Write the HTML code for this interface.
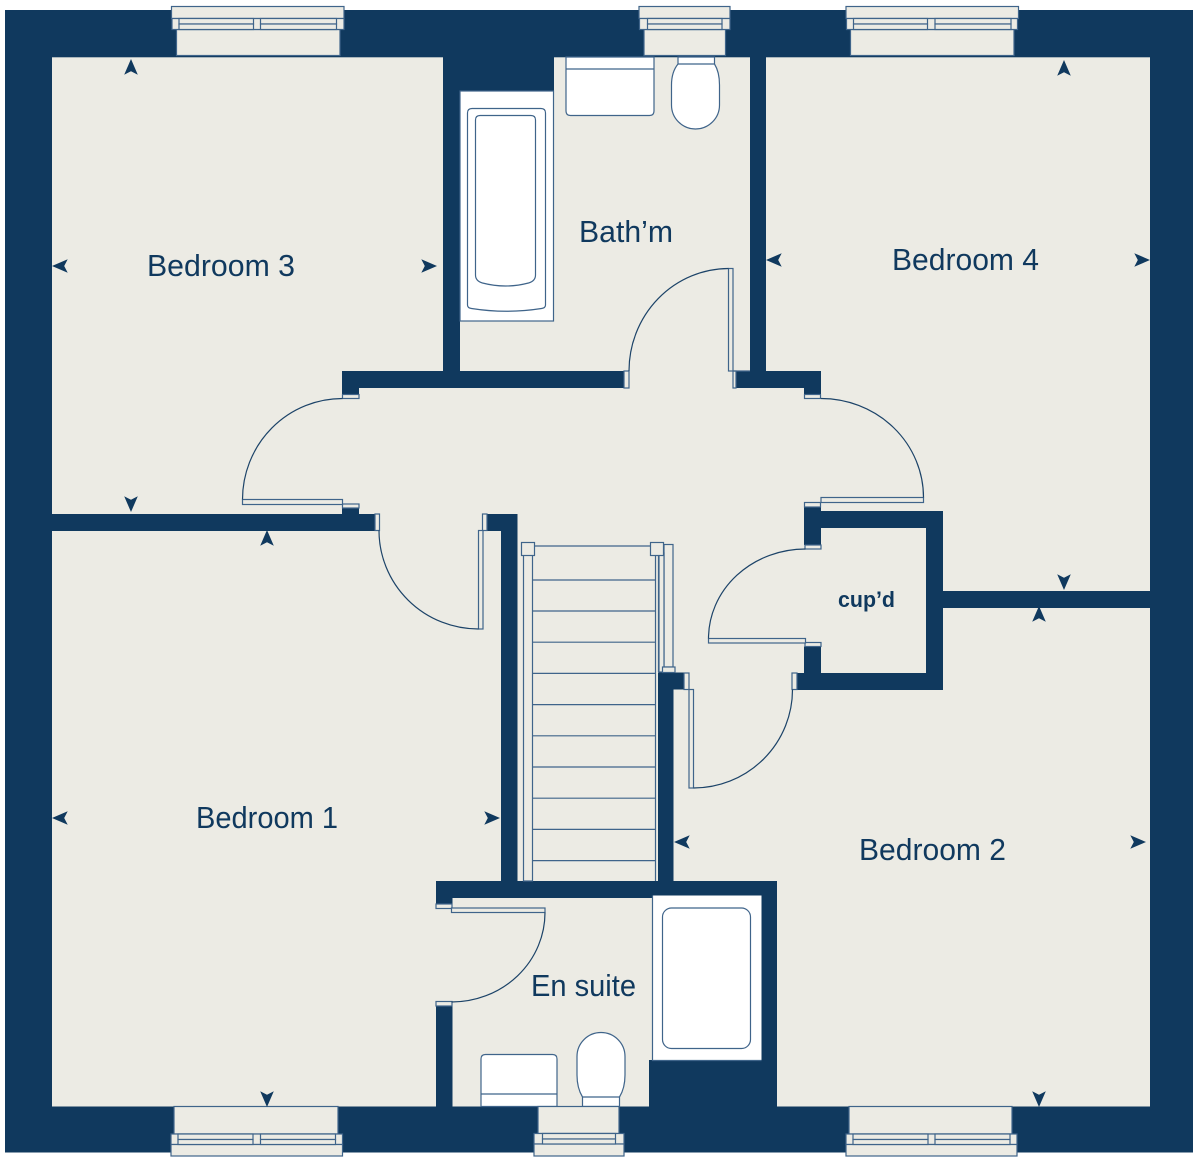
<!DOCTYPE html>
<html><head><meta charset="utf-8"><title>First floor plan</title>
<style>
html,body{margin:0;padding:0;background:#fff}
svg{display:block}
.w{fill:#10395e}
.f{fill:#ecebe4;stroke:#3f648a;stroke-width:1.2}
.p{fill:#fff;stroke:#3f648a;stroke-width:1.2}
.l{fill:none;stroke:#3f648a;stroke-width:1.2}
.a{fill:none;stroke:#1c4368;stroke-width:1.2}
text{font-family:"Liberation Sans",sans-serif;fill:#10395e}
</style></head><body>
<svg xmlns="http://www.w3.org/2000/svg" width="1200" height="1164" viewBox="0 0 1200 1164">
<defs><polygon id="ar" points="0,0 6.8,15.7 0,12.2 -6.8,15.7" fill="#10395e"/></defs>
<rect width="1200" height="1164" fill="#fff"/>
<rect class="w" x="5" y="10" width="1188" height="1142.500"/>
<rect x="52" y="57.300" width="1098" height="1049.200" fill="#ecebe4"/>

<!-- walls -->
<rect class="w" x="443" y="57" width="111" height="34"/>
<rect class="w" x="443" y="57" width="17" height="315"/>
<rect class="w" x="342" y="371" width="282" height="17"/>
<rect class="w" x="342" y="371" width="17" height="24"/>
<rect class="w" x="750" y="57" width="16" height="315"/>
<rect class="w" x="735" y="371" width="86" height="17"/>
<rect class="w" x="804" y="371" width="17" height="24"/>
<rect class="w" x="52" y="514" width="323" height="17"/>
<rect class="w" x="342" y="508" width="17" height="7"/>
<rect class="w" x="487" y="514" width="30" height="17"/>
<rect class="w" x="501" y="514" width="16.500" height="368"/>
<rect class="w" x="658" y="672.500" width="15.500" height="210"/>
<rect class="w" x="658" y="672.500" width="26" height="17"/>
<rect class="w" x="797" y="673" width="146" height="17"/>
<rect class="w" x="804" y="646.500" width="17" height="30"/>
<rect class="w" x="804" y="507" width="17" height="38"/>
<rect class="w" x="820" y="511" width="123" height="17"/>
<rect class="w" x="926" y="511" width="17" height="179"/>
<rect class="w" x="942" y="591" width="208" height="17"/>
<rect class="w" x="436" y="881" width="341" height="17"/>
<rect class="w" x="436" y="881" width="16.500" height="23"/>
<rect class="w" x="436" y="1006" width="16.500" height="101"/>
<rect class="w" x="761" y="881" width="16" height="226"/>
<rect class="w" x="649" y="1060" width="128" height="47"/>

<!-- jambs -->
<rect class="f" x="342.500" y="394.500" width="16.500" height="4"/>
<rect class="f" x="342.500" y="504" width="16.500" height="4"/>
<rect class="f" x="375" y="514" width="4.500" height="16.500"/>
<rect class="f" x="482.500" y="514" width="4.500" height="16.500"/>
<rect class="f" x="624" y="371" width="5" height="17"/>
<rect class="f" x="733" y="371" width="3" height="17"/>
<rect class="f" x="804.500" y="394.500" width="16" height="4"/>
<rect class="f" x="804.500" y="502.500" width="16" height="4.500"/>
<rect class="f" x="805" y="545" width="16" height="4"/>
<rect class="f" x="805" y="642.500" width="16" height="4"/>
<rect class="f" x="684" y="673" width="5" height="16.500"/>
<rect class="f" x="792" y="673" width="5" height="16.500"/>
<rect class="f" x="436" y="904" width="16" height="4.500"/>
<rect class="f" x="436" y="1001.500" width="16" height="4.500"/>

<!-- door leaves and swings -->
<rect class="f" x="242.500" y="499.500" width="100" height="5"/>
<path class="a" d="M242.500 499.500A100 101 0 0 1 342.500 398.500"/>
<rect class="f" x="478.500" y="530.500" width="4.500" height="98.500"/>
<path class="a" d="M379 530.500A99.500 98.500 0 0 0 478.500 629"/>
<rect class="f" x="728.500" y="268.500" width="4.500" height="102.500"/>
<line class="l" x1="733" y1="371" x2="750" y2="371"/>
<path class="a" d="M629 371A100 102.500 0 0 1 728.500 268.500"/>
<rect class="f" x="821" y="497.500" width="102.500" height="5"/>
<path class="a" d="M923.500 497.500A102.500 99 0 0 0 821 398.500"/>
<rect class="f" x="708.500" y="638.500" width="97" height="4.500"/>
<path class="a" d="M708.500 638.500A97 89.500 0 0 1 805.500 549"/>
<rect class="f" x="689" y="689.500" width="4.500" height="98.500"/>
<path class="a" d="M693.500 788A99 98.500 0 0 0 792.500 689.500"/>
<rect class="f" x="451.500" y="908" width="93.500" height="4.500"/>
<path class="a" d="M545 912.500A93.500 89.500 0 0 1 451.500 1002"/>

<!-- stairs -->
<rect class="f" x="523.500" y="555" width="9" height="326"/>
<line class="l" x1="534" y1="546" x2="650" y2="546"/>
<path class="l" d="M532.500 580H655.500M532.500 611H655.500M532.500 642.200H655.500M532.500 673.400H655.500M532.500 704.600H655.500M532.500 735.800H655.500M532.500 767H655.500M532.500 798.200H655.500M532.500 829.400H655.500M532.500 860.600H655.500"/>
<path class="l" d="M655.500 555V881M658.500 555V672"/>
<rect class="f" x="664" y="544.500" width="9" height="122.500"/>
<rect class="f" x="659" y="553" width="5" height="119"/>
<rect class="f" x="521.500" y="542.500" width="13" height="13"/>
<rect class="f" x="650.500" y="542.500" width="13" height="13"/>
<rect class="f" x="662.500" y="667" width="12.500" height="5.500"/>

<!-- bathroom fittings -->
<rect class="p" x="460" y="91" width="93.500" height="230"/>
<path class="l" d="M467.500 113q0-4.500 4.500-4.500H541q4.500 0 4.500 4.500V305q0 3-4 3.500q-35 5.500-70 0q-4-.5-4-3.500Z"/>
<path class="l" d="M475.500 120q0-4.500 4.500-4.500H531q4.500 0 4.500 4.500V275q0 6-7 8q-23 6-46 0q-7-2-7-8Z"/>
<path class="p" d="M566 57V111q0 4.500 4.500 4.500H649.500q4.500 0 4.500-4.500V57Z"/>
<line class="l" x1="566" y1="69" x2="654" y2="69"/>
<path class="p" d="M678 57V64Q671.500 72 671.500 85V105A24 24 0 0 0 719.500 105V85Q719.500 72 714.500 64V57Z"/>
<line class="l" x1="678" y1="64" x2="714.500" y2="64"/>

<!-- en suite fittings -->
<rect x="652.500" y="895.500" width="109" height="165" fill="#fff"/>
<path class="l" d="M652.500 895.500V1060.500H761.500"/>
<rect class="p" x="662.500" y="908" width="88" height="140.500" rx="9"/>
<path class="p" d="M481 1106.500V1059q0-4.500 4.500-4.500H552.500q4.500 0 4.500 4.500V1106.500Z"/>
<line class="l" x1="481" y1="1094" x2="557" y2="1094"/>
<path class="p" d="M582.500 1106.500V1097Q577 1088 577 1075V1056.500A24 24 0 0 1 625 1056.500V1075Q625 1088 619.500 1097V1106.500Z"/>
<line class="l" x1="582.500" y1="1097" x2="619.500" y2="1097"/>

<!-- top windows -->
<rect class="f" x="176.500" y="29.500" width="163.500" height="26"/>
<rect class="f" x="171.500" y="6.500" width="172.500" height="12"/>
<rect class="f" x="172" y="18.500" width="172" height="11"/>
<rect class="f" x="179" y="18.500" width="74.500" height="5.500"/><rect class="f" x="179" y="24" width="74.500" height="5.500"/>
<rect class="f" x="260.500" y="18.500" width="76" height="5.500"/><rect class="f" x="260.500" y="24" width="76" height="5.500"/>

<rect class="f" x="644" y="29.500" width="81.500" height="26"/>
<rect class="f" x="639" y="6.500" width="91" height="12"/>
<rect class="f" x="639.500" y="18.500" width="90.500" height="11"/>
<rect class="f" x="647.500" y="18.500" width="74.500" height="5.500"/><rect class="f" x="647.500" y="24" width="74.500" height="5.500"/>

<rect class="f" x="850.500" y="29.500" width="163.500" height="26"/>
<rect class="f" x="846" y="6.500" width="172.500" height="12"/>
<rect class="f" x="846.500" y="18.500" width="171" height="11"/>
<rect class="f" x="853.500" y="18.500" width="74" height="5.500"/><rect class="f" x="853.500" y="24" width="74" height="5.500"/>
<rect class="f" x="935" y="18.500" width="76" height="5.500"/><rect class="f" x="935" y="24" width="76" height="5.500"/>

<!-- bottom windows -->
<rect class="f" x="174" y="1106.500" width="164" height="27.500"/>
<rect class="f" x="171" y="1134" width="171.500" height="10.500"/>
<rect class="f" x="171" y="1144.500" width="171.500" height="11.500"/>
<rect class="f" x="178" y="1134" width="75" height="5.500"/><rect class="f" x="178" y="1139.500" width="75" height="5"/>
<rect class="f" x="260.500" y="1134" width="75" height="5.500"/><rect class="f" x="260.500" y="1139.500" width="75" height="5"/>

<rect class="f" x="538" y="1106.500" width="81" height="27"/>
<rect class="f" x="534" y="1133.500" width="90" height="10.500"/>
<rect class="f" x="534" y="1144" width="90" height="12"/>
<rect class="f" x="542.500" y="1133.500" width="73" height="5.500"/><rect class="f" x="542.500" y="1139" width="73" height="5"/>

<rect class="f" x="849" y="1106.500" width="163" height="27.500"/>
<rect class="f" x="846" y="1134" width="171" height="10.500"/>
<rect class="f" x="846" y="1144.500" width="171" height="11.500"/>
<rect class="f" x="853" y="1134" width="75" height="5.500"/><rect class="f" x="853" y="1139.500" width="75" height="5"/>
<rect class="f" x="935" y="1134" width="75" height="5.500"/><rect class="f" x="935" y="1139.500" width="75" height="5"/>

<!-- dimension arrowheads -->
<use href="#ar" transform="translate(131 59)"/>
<use href="#ar" transform="translate(131 512) rotate(180)"/>
<use href="#ar" transform="translate(52 266) rotate(-90)"/>
<use href="#ar" transform="translate(437 266) rotate(90)"/>
<use href="#ar" transform="translate(267 530)"/>
<use href="#ar" transform="translate(267 1107) rotate(180)"/>
<use href="#ar" transform="translate(52 818) rotate(-90)"/>
<use href="#ar" transform="translate(500 818) rotate(90)"/>
<use href="#ar" transform="translate(1064 60)"/>
<use href="#ar" transform="translate(1064 590) rotate(180)"/>
<use href="#ar" transform="translate(766 260) rotate(-90)"/>
<use href="#ar" transform="translate(1150 260) rotate(90)"/>
<use href="#ar" transform="translate(1039 606)"/>
<use href="#ar" transform="translate(1039 1107) rotate(180)"/>
<use href="#ar" transform="translate(674 842) rotate(-90)"/>
<use href="#ar" transform="translate(1146 842) rotate(90)"/>

<!-- labels -->
<text x="147" y="276" font-size="31" textLength="148" lengthAdjust="spacingAndGlyphs">Bedroom 3</text>
<text x="579" y="242" font-size="31" textLength="94" lengthAdjust="spacingAndGlyphs">Bath’m</text>
<text x="892" y="270" font-size="31" textLength="147" lengthAdjust="spacingAndGlyphs">Bedroom 4</text>
<text x="196" y="828" font-size="31" textLength="142" lengthAdjust="spacingAndGlyphs">Bedroom 1</text>
<text x="859" y="860" font-size="31" textLength="147" lengthAdjust="spacingAndGlyphs">Bedroom 2</text>
<text x="531" y="996" font-size="31" textLength="105" lengthAdjust="spacingAndGlyphs">En suite</text>
<text x="838" y="607" font-size="22" font-weight="bold" textLength="57" lengthAdjust="spacingAndGlyphs">cup’d</text>
</svg>
</body></html>
